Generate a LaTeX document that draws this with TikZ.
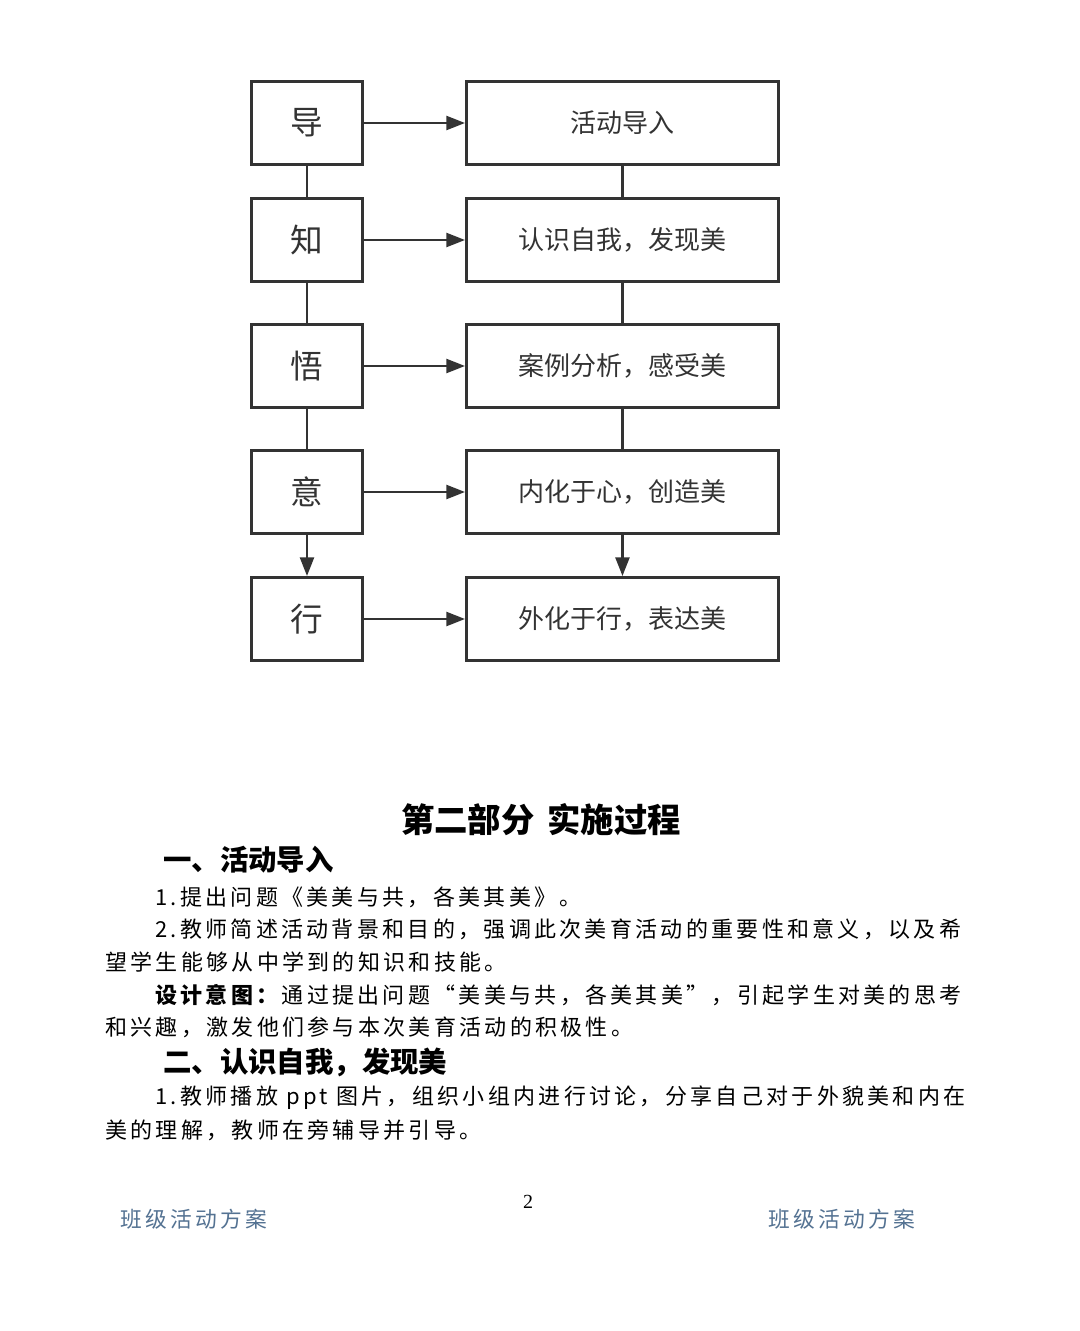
\documentclass[tikz,border=0pt]{standalone}
\usepackage{fontspec}
\setmainfont{Noto Sans CJK SC}
\newfontfamily\bodyfont[LetterSpace=15]{Noto Sans CJK SC}
\newfontfamily\numfont{Liberation Serif}
\usetikzlibrary{arrows.meta,positioning}
\definecolor{lineGray}{RGB}{ 51, 51, 51}
\definecolor{footBlue}{RGB}{ 84,114,146}
\tikzset{
  lbox/.style ={rectangle, draw=lineGray, line width=2.2pt, minimum width=83.3pt,
                 minimum height=62.3pt, inner sep=0pt, text=lineGray,
                 font=\fontsize{24.5}{28}\selectfont},
  rbox/.style ={rectangle, draw=lineGray, line width=2.2pt, minimum width=234pt,
                 minimum height=62.3pt, inner sep=0pt, text=lineGray,
                 font=\fontsize{19.5}{23}\selectfont},
  fl/.style   ={-{Triangle[length=14pt,width=10.5pt]}, line width=1.8pt, draw=lineGray},
  ln/.style   ={line width=1.8pt, draw=lineGray},
  body/.style ={anchor=west, inner sep=0pt, font=\bodyfont\fontsize{16.5}{20}\selectfont},
  head/.style ={anchor=west, inner sep=0pt, font=\bfseries\fontsize{21.3}{25}\selectfont},
  foot/.style ={anchor=west, inner sep=0pt, text=footBlue,
                 font=\bodyfont\fontsize{16.3}{20}\selectfont},
}
\begin{document}
\begin{tikzpicture}[x=0.75pt, y=-0.75pt, node distance=30pt and 75.75pt]
\useasboundingbox (0,0) rectangle (1080,1331);
% flow chart
\node[lbox] (dao) at (307,123) {导};
\node[lbox, below=23.25pt of dao] (zhi) {知};
\node[lbox, below=of zhi] (wu) {悟};
\node[lbox, below=of wu] (yi) {意};
\node[lbox, below=30.75pt of yi] (xing) {行};
\node[rbox, right=of dao] (daoR) {活动导入};
\node[rbox, right=of zhi] (zhiR) {认识自我，发现美};
\node[rbox, right=of wu] (wuR) {案例分析，感受美};
\node[rbox, right=of yi] (yiR) {内化于心，创造美};
\node[rbox, right=of xing] (xingR) {外化于行，表达美};
\foreach \a in {dao, zhi, wu, yi, xing}
  \draw[fl] (\a) -- (\a R);
\foreach \a/\b in {dao/zhi, zhi/wu, wu/yi}{
  \draw[ln] (\a) -- (\b);
  \draw[ln] (\a R) -- (\b R);
}
\draw[fl] (yi) -- (xing);
\draw[fl] (yiR) -- (xingR);
% page text
\node[inner sep=0pt, font=\bfseries\fontsize{25}{29}\selectfont] (title) at (541,820) {第二部分\hspace{0.4em}实施过程};
\node[head] (h1) at (163,860) {一、活动导入};
\node[body] (l1) at (155,897) {1.提出问题《美美与共，各美其美》。};
\node[body] (l2) at (155,929) {2.教师简述活动背景和目的，强调此次美育活动的重要性和意义，以及希};
\node[body] (l3) at (105,962) {望学生能够从中学到的知识和技能。};
\node[body] (l4) at (155,995) {\textbf{设计意图：}通过提出问题“美美与共，各美其美”，引起学生对美的思考};
\node[body] (l5) at (105,1027) {和兴趣，激发他们参与本次美育活动的积极性。};
\node[head] (h2) at (163,1062) {二、认识自我，发现美};
\node[body] (l6) at (155,1098) {1.教师播放 ppt 图片，组织小组内进行讨论，分享自己对于外貌美和内在};
\node[body] (l7) at (105,1130) {美的理解，教师在旁辅导并引导。};
\node[inner sep=0pt, font=\numfont\fontsize{15}{18}\selectfont] (pnum) at (528,1202) {2};
\node[foot] (fl) at (120,1219) {班级活动方案};
\node[foot] (fr) at (768,1219) {班级活动方案};
\end{tikzpicture}
\end{document}
